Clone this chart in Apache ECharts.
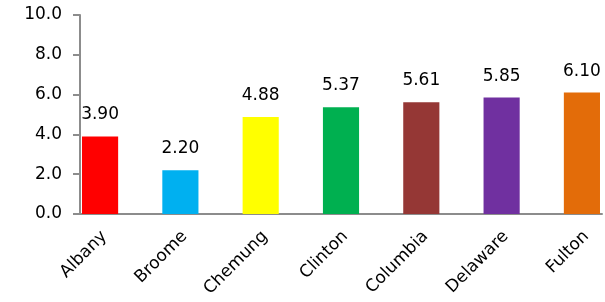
<!DOCTYPE html>
<html>
<head>
<meta charset="utf-8">
<script src="https://cdn.jsdelivr.net/npm/echarts@6/dist/echarts.min.js"></script>
<style>
  html, body { margin: 0; padding: 0; background: #fff; }
  #chart { width: 605px; height: 302px; }
</style>
</head>
<body>
<div id="chart"></div>
<script>
  // counties and their values (gap slots between bars are empty)
  var counties = ['Albany', 'Broome', 'Chemung', 'Clinton', 'Columbia', 'Delaware', 'Fulton'];
  var values = [3.90, 2.20, 4.88, 5.37, 5.61, 5.85, 6.10];
  var colors = ['#FF0000', '#00B0F0', '#FFFF00', '#00B050', '#953735', '#7030A0', '#E36C09'];
  var yTicks = [0, 2, 4, 6, 8, 10];

  var font = '"DejaVu Sans", sans-serif';

  // excel style: each county sits in every other slot
  var cats = [], data = [];
  counties.forEach(function (c, i) {
    if (i > 0) { cats.push(''); data.push('-'); }
    cats.push(c);
    data.push({ value: values[i], itemStyle: { color: colors[i] } });
  });

  var myChart = echarts.init(document.getElementById('chart'));
  myChart.setOption({
    animation: false,
    grid: { left: 80, right: 3, top: 15, bottom: 88 },
    xAxis: {
      type: 'category',
      data: cats,
      axisLine: { lineStyle: { color: '#8c8c8c', width: 2 } },
      axisTick: { interval: 0, length: 6, lineStyle: { color: '#8c8c8c', width: 2 } },
      axisLabel: {
        interval: 0,
        rotate: 45,
        margin: 24,
        padding: [0, -6, 0, 0],
        color: '#000',
        fontSize: 17,
        fontFamily: font
      }
    },
    yAxis: {
      type: 'value',
      min: yTicks[0],
      max: yTicks[yTicks.length - 1],
      interval: 2,
      splitLine: { show: false },
      axisLine: { show: true, lineStyle: { color: '#8c8c8c', width: 2 } },
      axisTick: { show: true, length: 7, lineStyle: { color: '#8c8c8c', width: 2 } },
      axisLabel: {
        margin: 18,
        color: '#000',
        fontSize: 17,
        fontFamily: font,
        formatter: function (v) { return v.toFixed(1); }
      }
    },
    series: [{
      type: 'bar',
      data: data,
      barCategoryGap: '10%',
      label: {
        show: true,
        position: 'top',
        distance: 13,
        color: '#000',
        fontSize: 17,
        fontFamily: font,
        formatter: function (p) { return p.value.toFixed(2); }
      }
    }]
  });
</script>
</body>
</html>
